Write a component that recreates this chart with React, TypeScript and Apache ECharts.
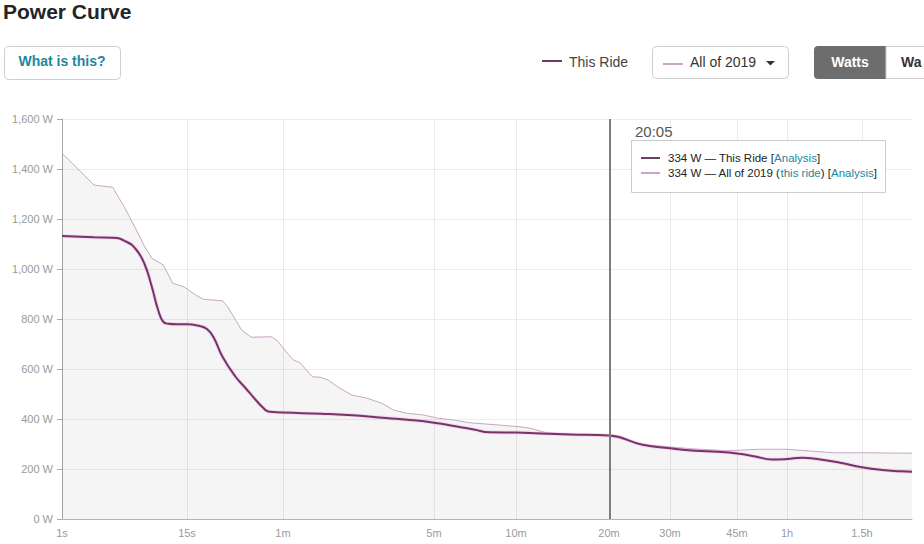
import React, { useEffect, useRef } from "react";
import * as echarts from "echarts";

// ---- data ----
const RIDE_SEC = [1, 2, 3, 4, 5, 6, 7, 8, 9, 10, 12, 15, 18, 20, 22, 25, 30, 35, 40, 45, 48, 50, 60, 90, 120, 180, 240, 300, 360, 420, 480, 600, 720, 900, 1200, 1500, 1800, 2100, 2400, 2700, 3000, 3300, 3600, 3900, 4200, 4800, 5400, 6000, 6600, 7000];
const RIDE_W = [1132, 1127, 1125, 1110, 1077, 1018, 929, 838, 788, 781, 779, 779, 772, 760, 727, 650, 572, 523, 480, 445, 431, 429, 426, 421, 416, 404, 395, 385, 371, 358, 347, 346, 342, 338, 334, 297, 283, 273, 269, 262, 250, 238, 240, 245, 241, 225, 207, 196, 191, 189];

const ALL_SEC = [1, 2, 3, 4, 5, 6, 7, 9, 11, 14, 17, 19, 25, 27, 33, 38, 51, 56, 62, 67, 72, 82, 89, 97, 110, 125, 147, 172, 195, 224, 268, 311, 353, 407, 618, 666, 754, 897, 1200, 1500, 1800, 2100, 2540, 3080, 3600, 4080, 4620, 5530, 7000];
const ALL_W = [1463, 1336, 1327, 1236, 1156, 1089, 1043, 1016, 943, 929, 896, 879, 873, 849, 756, 727, 729, 709, 669, 636, 625, 569, 567, 556, 523, 496, 483, 463, 436, 423, 416, 403, 396, 385, 369, 363, 345, 339, 334, 298, 288, 280, 273, 279, 279, 272, 265, 265, 263];

const TICK_SEC = [1, 15, 60, 300, 600, 1200, 1800, 2700, 3600, 5400];
const TICK_LABELS = ["1s", "15s", "1m", "5m", "10m", "20m", "30m", "45m", "1h", "1.5h"];

const HOVER_SEC = 1205;
const HOVER_LABEL = "20:05";
const HOVER_RIDE_W = 334;
const HOVER_ALL_W = 334;

// ---- custom duration scale (piecewise logarithmic) ----
const SCALE_SEC = [1, 15, 60, 300, 600, 1200, 1800, 2700, 3600, 5400, 7000];
const SCALE_POS = [0, 125, 221, 372, 454, 547, 608, 675, 725, 800, 850];
const AXIS_MAX = 850;

function pos(t: number): number {
  for (let i = 0; i < SCALE_SEC.length - 1; i++) {
    const a = SCALE_SEC[i], b = SCALE_SEC[i + 1];
    if (t <= b || i === SCALE_SEC.length - 2) {
      const f = (Math.log(t) - Math.log(a)) / (Math.log(b) - Math.log(a));
      return SCALE_POS[i] + f * (SCALE_POS[i + 1] - SCALE_POS[i]);
    }
  }
  return AXIS_MAX;
}

const RIDE_COLOR = "#7a3268";
const ALL_COLOR = "#c9a6c5";
const TEAL = "#23869b";
const FONT = '"Liberation Sans", Arial, sans-serif';

export default function App() {
  const ref = useRef<HTMLDivElement>(null);

  useEffect(() => {
    document.body.style.margin = "0";
    if (!ref.current) return;
    const chart = echarts.init(ref.current, undefined, { renderer: "svg" });

    const rideData = RIDE_SEC.map((s, i) => [pos(s), RIDE_W[i]]);
    const allData = ALL_SEC.map((s, i) => [pos(s), ALL_W[i]]);
    const tickPos = TICK_SEC.map(pos);

    const option: any = {
      animation: false,
      textStyle: { fontFamily: FONT },
      grid: { left: 62, top: 119, width: 850, height: 400, containLabel: false },
      xAxis: {
        type: "value",
        min: 0,
        max: AXIS_MAX,
        axisLine: { show: true, lineStyle: { color: "#b5b5b5", width: 1 } },
        axisTick: { show: false, customValues: tickPos },
        axisLabel: {
          customValues: tickPos,
          color: "#9a9a9a",
          fontSize: 11,
          fontFamily: FONT,
          margin: 8,
          formatter: (v: number) => {
            const i = tickPos.findIndex((p) => Math.abs(p - v) < 0.5);
            return i >= 0 ? TICK_LABELS[i] : "";
          },
        },
        splitLine: { show: true, lineStyle: { color: "#eaeaea", width: 1 } },
      },
      yAxis: {
        type: "value",
        min: 0,
        max: 1600,
        interval: 200,
        axisLine: { show: true, lineStyle: { color: "#a8a8a8", width: 1 } },
        axisTick: { show: true, length: 5, lineStyle: { color: "#a8a8a8" } },
        axisLabel: {
          color: "#9a9a9a",
          fontSize: 11,
          fontFamily: FONT,
          margin: 9,
          formatter: (v: number) => v.toLocaleString("en-US") + " W",
        },
        splitLine: { show: true, lineStyle: { color: "#ededed", width: 1 } },
      },
      series: [
        {
          name: "All of 2019",
          type: "line",
          data: allData,
          showSymbol: false,
          symbol: "none",
          lineStyle: { color: ALL_COLOR, width: 1 },
          areaStyle: { color: "rgba(0,0,0,0.055)", origin: "start" },
          z: 2,
        },
        {
          name: "This Ride halo",
          type: "line",
          data: rideData,
          showSymbol: false,
          symbol: "none",
          smooth: 0.5,
          lineStyle: { color: "rgba(236,185,228,0.4)", width: 4 },
          z: 3,
          silent: true,
        },
        {
          name: "This Ride",
          type: "line",
          data: rideData,
          showSymbol: false,
          symbol: "none",
          smooth: 0.5,
          lineStyle: { color: RIDE_COLOR, width: 2 },
          z: 4,
          markLine: {
            silent: true,
            symbol: "none",
            label: { show: false },
            lineStyle: { color: "#7d7d7d", width: 2, type: "solid" },
            data: [{ xAxis: pos(HOVER_SEC) }],
          },
        },
      ],
      graphic: {
        elements: [
          {
            type: "text",
            left: 3,
            top: 1,
            style: { text: "Power Curve", font: `bold 21px ${FONT}`, fill: "#242428" },
          },
          {
            type: "rect",
            shape: { x: 4.5, y: 46.5, width: 116, height: 33, r: 4 },
            style: { fill: "#fff", stroke: "#cfcfcf", lineWidth: 1 },
          },
          {
            type: "text",
            x: 62,
            y: 61,
            style: { text: "What is this?", font: `bold 14px ${FONT}`, fill: TEAL, align: "center", verticalAlign: "middle" },
          },
          {
            type: "line",
            shape: { x1: 542, y1: 61, x2: 562, y2: 61 },
            style: { stroke: "#6e3d60", lineWidth: 2 },
          },
          {
            type: "text",
            x: 569,
            y: 62,
            style: { text: "This Ride", font: `14px ${FONT}`, fill: "#444", verticalAlign: "middle" },
          },
          {
            type: "rect",
            shape: { x: 652.5, y: 46.5, width: 136, height: 32, r: 4 },
            style: { fill: "#fff", stroke: "#cfcfcf", lineWidth: 1 },
          },
          {
            type: "line",
            shape: { x1: 663, y1: 64, x2: 683, y2: 64 },
            style: { stroke: ALL_COLOR, lineWidth: 2 },
          },
          {
            type: "text",
            x: 690,
            y: 62,
            style: { text: "All of 2019", font: `14px ${FONT}`, fill: "#333", verticalAlign: "middle" },
          },
          {
            type: "polygon",
            shape: { points: [[766, 61], [775, 61], [770.5, 65.5]] },
            style: { fill: "#333" },
          },
          {
            type: "rect",
            shape: { x: 814, y: 46, width: 72, height: 33, r: [4, 0, 0, 4] },
            style: { fill: "#6d6d6d" },
          },
          {
            type: "text",
            x: 850,
            y: 62,
            style: { text: "Watts", font: `bold 14px ${FONT}`, fill: "#fff", align: "center", verticalAlign: "middle" },
          },
          {
            type: "rect",
            shape: { x: 886, y: 46.5, width: 70, height: 32, r: [0, 4, 4, 0] },
            style: { fill: "#fff", stroke: "#cfcfcf", lineWidth: 1 },
          },
          {
            type: "text",
            x: 901,
            y: 62,
            style: { text: "Wa", font: `bold 14px ${FONT}`, fill: "#333", verticalAlign: "middle" },
          },
          // hover readout
          {
            type: "text",
            x: 635,
            y: 131,
            z: 100,
            style: { text: HOVER_LABEL, font: `15px ${FONT}`, fill: "#555", verticalAlign: "middle" },
          },
          {
            type: "rect",
            z: 100,
            shape: { x: 631.5, y: 140.5, width: 254, height: 52 },
            style: { fill: "#fff", stroke: "#cccccc", lineWidth: 1 },
          },
          {
            type: "line",
            z: 101,
            shape: { x1: 641, y1: 158, x2: 660, y2: 158 },
            style: { stroke: "#6e3d60", lineWidth: 2 },
          },
          {
            type: "line",
            z: 101,
            shape: { x1: 641, y1: 173, x2: 660, y2: 173 },
            style: { stroke: ALL_COLOR, lineWidth: 2 },
          },
          {
            type: "text",
            x: 668,
            y: 158,
            z: 101,
            style: {
              text: `{b|${HOVER_RIDE_W} W — This Ride [}{a|Analysis}{b|]}`,
              font: `11.5px ${FONT}`,
              fill: "#222",
              verticalAlign: "middle",
              rich: {
                a: { fill: TEAL, font: `11.5px ${FONT}` },
                b: { fill: "#222", font: `11.5px ${FONT}` },
              },
            },
          },
          {
            type: "text",
            x: 668,
            y: 173,
            z: 101,
            style: {
              text: `{b|${HOVER_ALL_W} W — All of 2019 (}{a|this ride}{b|) [}{a|Analysis}{b|]}`,
              font: `11.5px ${FONT}`,
              fill: "#222",
              verticalAlign: "middle",
              rich: {
                a: { fill: TEAL, font: `11.5px ${FONT}` },
                b: { fill: "#222", font: `11.5px ${FONT}` },
              },
            },
          },
        ],
      },
    };

    chart.setOption(option);
    return () => chart.dispose();
  }, []);

  return <div ref={ref} style={{ width: 924, height: 544 }} />;
}
